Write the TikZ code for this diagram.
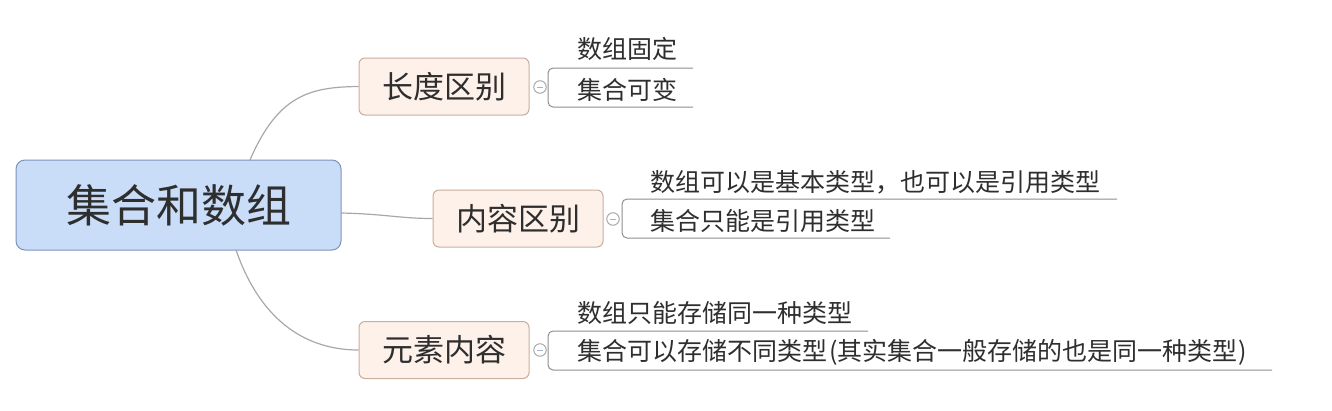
\documentclass[tikz,border=0pt]{standalone}
\usepackage{fontspec}
\newfontfamily\cjk{Noto Sans CJK SC}
\definecolor{rootfill}{HTML}{C9DDF9}
\definecolor{rootdraw}{HTML}{7D93BE}
\definecolor{brfill}{HTML}{FDF1EA}
\definecolor{brdraw}{HTML}{C8AE9C}
\definecolor{linkc}{HTML}{A8A8A8}
\definecolor{leafc}{HTML}{8E8E8E}
\definecolor{txt}{HTML}{2E2E2E}
\tikzset{
  rootbox/.style={draw=rootdraw, fill=rootfill, line width=1pt, rounded corners=9pt,
    minimum width=325pt, minimum height=90pt, inner sep=0pt, text=txt,
    font=\cjk\fontsize{45}{45}\selectfont},
  brbox/.style={draw=brdraw, fill=brfill, line width=1pt, rounded corners=6pt,
    minimum width=170pt, minimum height=57pt, inner sep=0pt, text=txt,
    font=\cjk\fontsize{31}{31}\selectfont},
  leaf/.style={anchor=west, inner sep=0pt, text=txt, font=\cjk\fontsize{25}{25}\selectfont},
  link/.style={draw=linkc, line width=1.2pt},
  leafline/.style={draw=leafc, line width=1pt, rounded corners=5pt},
  fold/.style={circle, draw=linkc, fill=white, line width=1pt, minimum size=12.5pt, inner sep=0pt,
    path picture={\draw[draw=rootdraw!70, line width=0.9pt] ([xshift=-3pt]path picture bounding box.center) -- ([xshift=3pt]path picture bounding box.center);}},
}
\begin{document}
\begin{tikzpicture}[x=1pt,y=-1pt]
\useasboundingbox (0,0) rectangle (1332,410);
% root
\node[rootbox] (root) at (178.5,205) {集合和数组};
% branches
\node[brbox] (b1) at (444,86.5) {长度区别};
\node[brbox] (b2) at (518,218.5) {内容区别};
\node[brbox] (b3) at (444,350) {元素内容};
% links
\coordinate (r1) at (250,160);
\coordinate (r2) at (341,213);
\coordinate (r3) at (236,250);
\draw[link] (r1) .. controls (278,95) and (310,87) .. (b1.west);
\draw[link] (r2) .. controls (385,214) and (400,218.5) .. (b2.west);
\draw[link] (r3) .. controls (262,325) and (310,350) .. (b3.west);
% fold circles
\node[fold] (f1) at (540,87) {};
\node[fold] (f2) at (613,219) {};
\node[fold] (f3) at (540,350) {};
% branch 1 leaves
\coordinate (a1s) at (693,68);
\coordinate (a1e) at (693,107);
\draw[leafline] (a1s) -- (548,68) -- (548,107) -- (a1e);
\node[leaf] (l11) at (577,49) {数组固定};
\node[leaf] (l12) at (577,90) {集合可变};
% branch 2 leaves
\coordinate (a2s) at (1117,199);
\coordinate (a2e) at (890,238);
\draw[leafline] (a2s) -- (622,199) -- (622,238) -- (a2e);
\node[leaf] (l21) at (650,182) {数组可以是基本类型，也可以是引用类型};
\node[leaf] (l22) at (650,221) {集合只能是引用类型};
% branch 3 leaves
\coordinate (a3s) at (868,331);
\coordinate (a3e) at (1272,370);
\draw[leafline] (a3s) -- (548,331) -- (548,370) -- (a3e);
\node[leaf] (l31) at (577,313) {数组只能存储同一种类型};
\node[leaf] (l32) at (577,352) {集合可以存储不同类型\kern2pt(其实集合一般存储的也是同一种类型\kern1pt)};
\end{tikzpicture}
\end{document}
